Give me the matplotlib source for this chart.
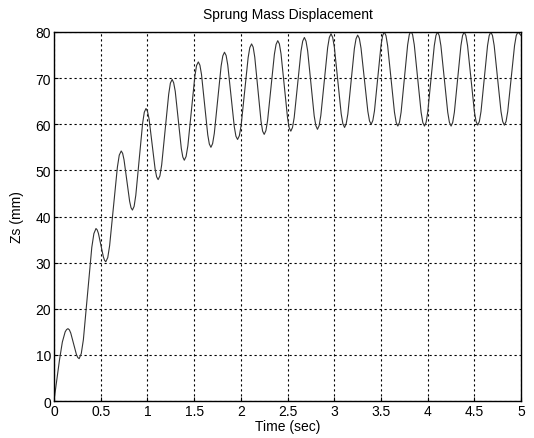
"""Sprung mass displacement response (MATLAB-style figure)."""

import matplotlib.pyplot as plt

# extrema and flank points, one row per half swing
TIME_SEC = [
    0.00, 0.03, 0.06, 0.09, 0.12, 0.135, 0.15,
    0.165, 0.18, 0.21, 0.24, 0.255, 0.27,
    0.2925, 0.315, 0.36, 0.405, 0.4275, 0.45,
    0.463, 0.476, 0.503, 0.529, 0.542, 0.555,
    0.576, 0.596, 0.638, 0.679, 0.699, 0.72,
    0.735, 0.75, 0.78, 0.81, 0.825, 0.84,
    0.858, 0.876, 0.913, 0.949, 0.967, 0.985,
    1.001, 1.018, 1.05, 1.083, 1.099, 1.115,
    1.134, 1.153, 1.19, 1.228, 1.246, 1.265,
    1.281, 1.298, 1.33, 1.363, 1.379, 1.395,
    1.414, 1.433, 1.47, 1.508, 1.526, 1.545,
    1.562, 1.579, 1.613, 1.646, 1.663, 1.68,
    1.698, 1.716, 1.753, 1.789, 1.807, 1.825,
    1.8425, 1.86, 1.895, 1.93, 1.9475, 1.965,
    1.984, 2.003, 2.04, 2.078, 2.096, 2.115,
    2.132, 2.149, 2.183, 2.216, 2.233, 2.25,
    2.268, 2.286, 2.323, 2.359, 2.377, 2.395,
    2.4125, 2.43, 2.465, 2.5, 2.5175, 2.535,
    2.553, 2.571, 2.608, 2.644, 2.662, 2.68,
    2.6975, 2.715, 2.75, 2.785, 2.8025, 2.82,
    2.838, 2.856, 2.893, 2.929, 2.947, 2.965,
    2.983, 3.001, 3.038, 3.074, 3.092, 3.11,
    3.1275, 3.145, 3.18, 3.215, 3.2325, 3.25,
    3.268, 3.286, 3.323, 3.359, 3.377, 3.395,
    3.4125, 3.43, 3.465, 3.5, 3.5175, 3.535,
    3.553, 3.571, 3.608, 3.644, 3.662, 3.68,
    3.6975, 3.715, 3.75, 3.785, 3.8025, 3.82,
    3.838, 3.856, 3.893, 3.929, 3.947, 3.965,
    3.9825, 4.0, 4.035, 4.07, 4.0875, 4.105,
    4.123, 4.141, 4.178, 4.214, 4.232, 4.25,
    4.2675, 4.285, 4.32, 4.355, 4.3725, 4.39,
    4.408, 4.426, 4.463, 4.499, 4.517, 4.535,
    4.5525, 4.57, 4.605, 4.64, 4.6575, 4.675,
    4.693, 4.711, 4.748, 4.784, 4.802, 4.82,
    4.838, 4.856, 4.893, 4.929, 4.947, 4.965,
    5.0,
]
ZS_MM = [
    0.0, 4.5, 9.0, 12.8, 15.0, 15.5, 15.7,
    15.45, 14.75, 12.45, 10.15, 9.45, 9.2,
    10.3, 13.3, 23.3, 33.3, 36.3, 37.4,
    37.1, 36.35, 33.8, 31.25, 30.5, 30.2,
    31.1, 33.7, 42.2, 50.7, 53.3, 54.2,
    53.7, 52.3, 47.8, 43.3, 41.9, 41.4,
    42.2, 44.6, 52.4, 60.2, 62.6, 63.4,
    62.8, 61.15, 55.7, 50.25, 48.6, 48.0,
    48.8, 51.2, 58.85, 66.5, 68.9, 69.7,
    69.0, 67.15, 60.95, 54.75, 52.9, 52.2,
    53.0, 55.3, 62.85, 70.4, 72.7, 73.5,
    72.8, 70.8, 64.25, 57.7, 55.7, 55.0,
    55.8, 58.0, 65.3, 72.6, 74.8, 75.6,
    74.9, 72.85, 66.15, 59.45, 57.4, 56.7,
    57.5, 59.7, 67.05, 74.4, 76.6, 77.4,
    76.7, 74.55, 67.6, 60.65, 58.5, 57.8,
    58.6, 60.75, 67.95, 75.15, 77.3, 78.1,
    77.4, 75.25, 68.3, 61.35, 59.2, 58.5,
    59.3, 61.45, 68.65, 75.85, 78.0, 78.8,
    78.0, 75.9, 68.85, 61.8, 59.7, 58.9,
    59.7, 61.9, 69.25, 76.6, 78.8, 79.6,
    78.8, 76.65, 69.45, 62.25, 60.1, 59.3,
    60.1, 62.2, 69.3, 76.4, 78.5, 79.3,
    78.6, 76.5, 69.65, 62.8, 60.7, 60.0,
    60.8, 62.9, 70.0, 77.1, 79.2, 80.0,
    79.2, 77.0, 69.8, 62.6, 60.4, 59.6,
    60.4, 62.6, 69.9, 77.2, 79.4, 80.2,
    79.4, 77.2, 69.9, 62.6, 60.4, 59.6,
    60.4, 62.6, 69.8, 77.0, 79.2, 80.0,
    79.2, 77.0, 69.8, 62.6, 60.4, 59.6,
    60.4, 62.6, 69.8, 77.0, 79.2, 80.0,
    79.2, 77.05, 69.9, 62.75, 60.6, 59.8,
    60.6, 62.75, 69.9, 77.05, 79.2, 80.0,
    79.2, 77.05, 69.9, 62.75, 60.6, 59.8,
    60.6, 62.75, 69.9, 77.05, 79.2, 80.0,
    79.2,
]
X_TICKS = [0, 0.5, 1, 1.5, 2, 2.5, 3, 3.5, 4, 4.5, 5]
Y_TICKS = [0, 10, 20, 30, 40, 50, 60, 70, 80]


def setup_plt() -> None:
    """Configure matplotlib to look like an old MATLAB figure."""
    plt.rcParams["font.family"] = ["Liberation Sans", "DejaVu Sans"]
    plt.rcParams["font.size"] = 10
    plt.rcParams["xtick.direction"] = "in"
    plt.rcParams["ytick.direction"] = "in"


def main() -> None:
    """Plot sprung mass displacement."""
    setup_plt()

    fig = plt.figure(figsize=(5.34, 4.39), dpi=100)
    ax = fig.add_axes([0.101, 0.084, 0.875, 0.841])
    ax.plot(TIME_SEC, ZS_MM, color="#333333", linewidth=0.8)

    ax.set_xlim(0, 5)
    ax.set_ylim(0, 80)
    ax.set_xticks(X_TICKS)
    ax.set_xticklabels([f"{t:g}" for t in X_TICKS])
    ax.set_yticks(Y_TICKS)
    ax.tick_params(length=3, width=0.8, colors="black", pad=2)
    ax.grid(True, color="black", linestyle=(0, (2, 2.5)), linewidth=0.8)
    for spine in ax.spines.values():
        spine.set_linewidth(1.0)

    ax.set_title("Sprung Mass Displacement", fontsize=10, pad=10)
    ax.set_xlabel("Time (sec)", labelpad=1)
    ax.set_ylabel("Zs (mm)", labelpad=8)

    fig.savefig("out.png", dpi=100)


if __name__ == "__main__":
    main()
